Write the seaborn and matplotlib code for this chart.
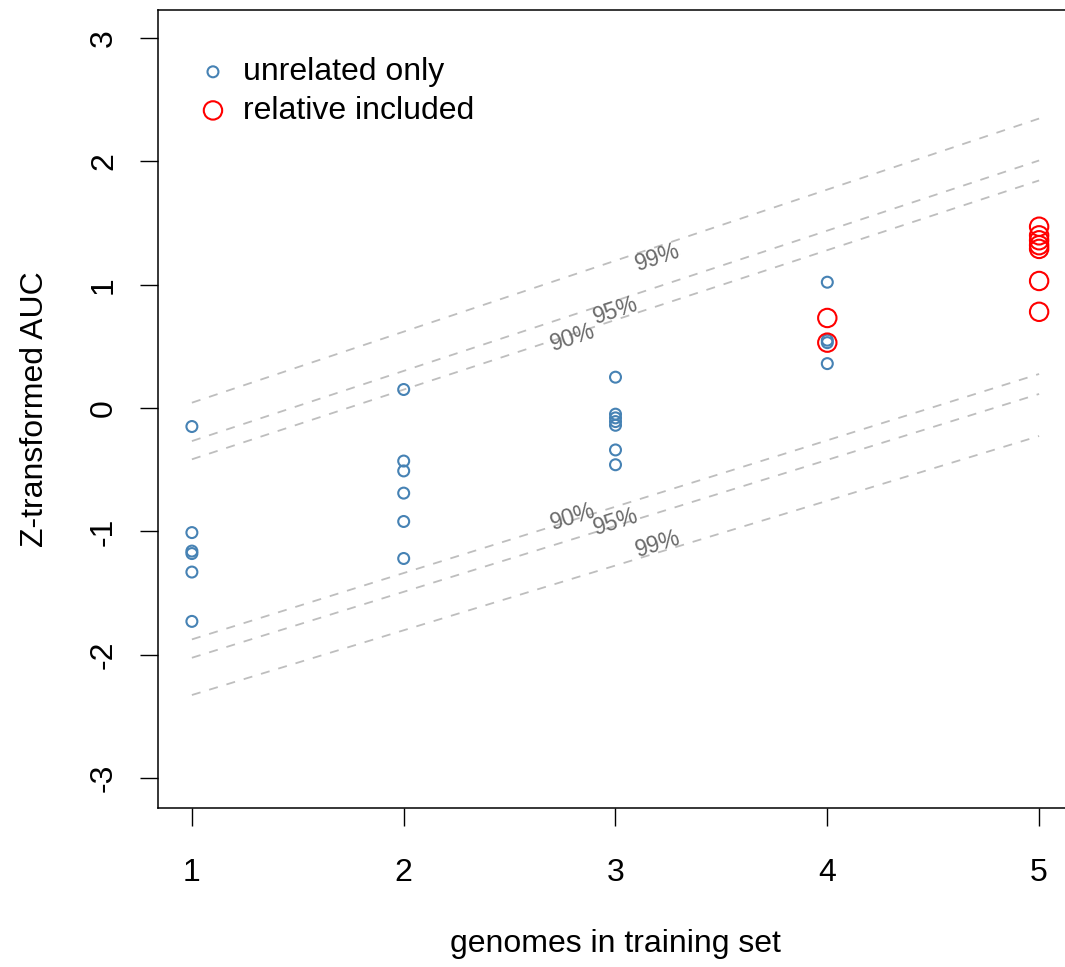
import numpy as np
import pandas as pd
import matplotlib
matplotlib.use("Agg")
import matplotlib.pyplot as plt
import seaborn as sns

# Z-transformed AUC per training-set size
unrelated_genomes = [1, 1, 1, 1, 1, 1,
                     2, 2, 2, 2, 2, 2,
                     3, 3, 3, 3, 3, 3, 3,
                     4, 4, 4, 4]
unrelated_auc = [-0.15, -1.01, -1.16, -1.18, -1.33, -1.73,
                 0.15, -0.43, -0.51, -0.69, -0.92, -1.22,
                 0.25, -0.05, -0.08, -0.11, -0.14, -0.34, -0.46,
                 1.02, 0.55, 0.53, 0.36]

relative_genomes = [4, 4, 5, 5, 5, 5, 5, 5, 5]
relative_auc = [0.73, 0.53, 1.47, 1.40, 1.36, 1.32, 1.29, 1.03, 0.78]

# Prediction bands: value at genomes = 1 and genomes = 5
band_levels = ["90%", "95%", "99%"]
band_x = [1, 5]
upper_band = {"90%": [-0.416, 1.845], "95%": [-0.268, 2.007], "99%": [0.043, 2.347]}
lower_band = {"90%": [-1.876, 0.276], "95%": [-2.025, 0.114], "99%": [-2.327, -0.227]}
band_label_x = {"90%": 2.8, "95%": 3.0, "99%": 3.2}

x_ticks = [1, 2, 3, 4, 5]
y_ticks = [-3, -2, -1, 0, 1, 2, 3]

sns.set_theme(style="white")
plt.rcParams["font.family"] = ["Liberation Sans", "DejaVu Sans"]
plt.rcParams["text.color"] = "black"
plt.rcParams["axes.labelcolor"] = "black"

W, H = 1065, 967
fig = plt.figure(figsize=(W / 100, H / 100), dpi=100)
ax = fig.add_axes([158 / W, 1 - 808 / H, (1073 - 158) / W, (808 - 10) / H])

blue = "#4682B4"
red = "#FF0000"
band_color = "#BEBEBE"

# dashed prediction-band lines
for level in band_levels:
    for band in (upper_band, lower_band):
        df_line = pd.DataFrame({"x": band_x, "y": band[level]})
        sns.lineplot(data=df_line, x="x", y="y", ax=ax, color=band_color,
                     linewidth=1.3, linestyle=(0, (5, 5)), zorder=1)

df_unrel = pd.DataFrame({"genomes": unrelated_genomes, "auc": unrelated_auc})
df_rel = pd.DataFrame({"genomes": relative_genomes, "auc": relative_auc})

sns.scatterplot(data=df_unrel, x="genomes", y="auc", ax=ax, marker="o",
                s=62, facecolor="none", edgecolor=blue, linewidth=1.5,
                label="unrelated only", zorder=3)
sns.scatterplot(data=df_rel, x="genomes", y="auc", ax=ax, marker="o",
                s=175, facecolor="none", edgecolor=red, linewidth=1.5,
                label="relative included", zorder=3)

ax.set_xlim(0.84, 5.16)
ax.set_ylim(-3.243, 3.227)

# percentage labels along the bands
fig.canvas.draw()
def band_angle(vals):
    p0 = ax.transData.transform((band_x[0], vals[0]))
    p1 = ax.transData.transform((band_x[1], vals[1]))
    return np.degrees(np.arctan2(p1[1] - p0[1], p1[0] - p0[0]))

upper_offsets = {"90%": -3, "95%": -7, "99%": -8}
lower_offsets = {"90%": 2, "95%": 3, "99%": 6}
for level in band_levels:
    lx = band_label_x[level]
    for band, offs in ((upper_band, upper_offsets), (lower_band, lower_offsets)):
        vals = band[level]
        ly = np.interp(lx, band_x, vals)
        ax.annotate(level, (lx, ly), xytext=(0, offs[level]),
                    textcoords="offset points", ha="center", va="center",
                    rotation=band_angle(vals), rotation_mode="anchor",
                    fontsize=16.5, color="#6A6A6A", zorder=2)

ax.set_xticks(x_ticks)
ax.set_yticks(y_ticks)
ax.set_xticklabels([str(v) for v in x_ticks])
ax.set_yticklabels([str(v) for v in y_ticks], rotation=90, va="center")
ax.tick_params(axis="both", direction="out", length=13, width=1.0,
               color="black", labelsize=23, labelcolor="black",
               bottom=True, left=True)
ax.tick_params(axis="x", pad=23)
ax.tick_params(axis="y", pad=15)

for spine in ax.spines.values():
    spine.set_visible(True)
    spine.set_color("black")
    spine.set_linewidth(1.1)

ax.set_xlabel("genomes in training set", fontsize=23, color="black")
ax.set_ylabel("Z-transformed AUC", fontsize=23, color="black")
ax.xaxis.set_label_coords(0.5, -(944 - 808) / 798)
ax.xaxis.label.set_va("center")
ax.yaxis.set_label_coords(-(158 - 35) / 915, 0.5)
ax.yaxis.label.set_va("center")

leg = ax.legend(loc="center left", bbox_to_anchor=(197 / W, 1 - 91.5 / H),
                bbox_transform=fig.transFigure, frameon=False, fontsize=23,
                borderpad=0, handlelength=1.0, handletextpad=0.45,
                labelspacing=0.27, borderaxespad=0)
for t in leg.get_texts():
    t.set_color("black")

fig.savefig("out.png", dpi=100)
